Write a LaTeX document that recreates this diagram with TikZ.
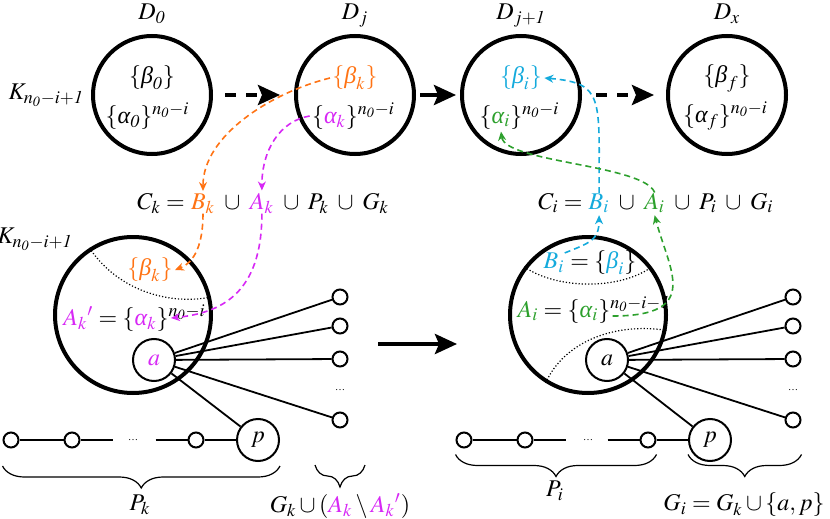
\documentclass[tikz,border=0pt]{standalone}
\usepackage{mathptmx}
\usepackage{fontspec}
\setmainfont{Liberation Serif}
\usepackage{xcolor}
\usetikzlibrary{arrows.meta,positioning,calc,decorations.pathreplacing}

\definecolor{orangek}{RGB}{255,115,20}
\definecolor{magk}{RGB}{215,40,245}
\definecolor{cyani}{RGB}{20,170,220}
\definecolor{greeni}{RGB}{45,160,45}
\newcommand{\nz}{n_{\mathit{0}}}
\newcommand{\gal}{\textit{α}}
\newcommand{\gbe}{\textit{β}}
\newcommand{\ucup}{{}\;\cup\;{}}

\begin{document}
\begin{tikzpicture}[x=0.5pt, y=0.5pt, font=\fontsize{12}{14}\selectfont,
    dset/.style={circle, draw, line width=2pt, minimum size=59pt, inner sep=0pt},
    kset/.style={circle, draw, line width=2pt, minimum size=78pt, inner sep=0pt},
    vtx/.style={circle, draw, fill=white, line width=1pt, minimum size=21pt, inner sep=0pt},
    leaf/.style={circle, draw, fill=white, line width=1pt, minimum size=7.5pt, inner sep=0pt},
    link/.style={line width=0.9pt},
    flow/.style={line width=2pt, -{Stealth[length=11pt, width=10pt, inset=2pt]}},
    skip/.style={flow, dash pattern=on 5.5pt off 5pt},
    track/.style={line width=0.8pt, dash pattern=on 3pt off 2pt, -{Stealth[length=4.5pt, width=4pt]}},
    part/.style={densely dotted, line width=0.6pt},
    brc/.style={decorate, decoration={brace, mirror, amplitude=11pt}, line width=0.6pt},
    txt/.style={inner sep=1pt},
    eq/.style={inner sep=0pt, anchor=base west}]
  \useasboundingbox (0,0) rectangle (830,-519);

  % top row of states
  \node[dset] (d0) at (152,-95) {};
  \node[dset] (dj) at (355,-95) {};
  \node[dset] (dj1) at (521,-95) {};
  \node[dset] (dx) at (727,-95) {};
  \node[anchor=base] at (152,-20) {$D_{\mathit{0}}$};
  \node[anchor=base] at (355,-20) {$D_j$};
  \node[anchor=base] at (521,-20) {$D_{j+\mathit{1}}$};
  \node[anchor=base] at (727,-20) {$D_x$};
  \node[left=0pt of d0] (kd) {$K_{\nz-i+\mathit{1}}$};

  \node[txt] (b0d) at ($(d0)+(0,17)$) {$\{\gbe_{\mathit{0}}\}$};
  \node[txt] (a0d) at ($(d0)+(-23,-21)$) {$\{\gal_{\mathit{0}}\}\rlap{$^{\nz-i}$}$};
  \node[txt, text=orangek] (bkd) at ($(dj)+(0,17)$) {$\{\gbe_k\}$};
  \node[txt] (akd) at ($(dj)+(-20,-21)$) {$\{\textcolor{magk}{\gal_k}\}\rlap{$^{\nz-i}$}$};
  \node[txt, text=cyani] (bid) at ($(dj1)+(0,17)$) {$\{\gbe_i\}$};
  \node[txt] (aid) at ($(dj1)+(-20,-21)$) {$\{\textcolor{greeni}{\gal_i}\}\rlap{$^{\nz-i}$}$};
  \node[txt] (bfd) at ($(dx)+(0,17)$) {$\{\gbe_f\}$};
  \node[txt] (afd) at ($(dx)+(-20,-21)$) {$\{\gal_f\}\rlap{$^{\nz-i}$}$};

  \draw[skip, shorten <=6pt, shorten >=7pt] (d0) -- (dj);
  \draw[flow, shorten <=2pt, shorten >=2pt] (dj) -- (dj1);
  \draw[skip, shorten <=7pt, shorten >=6pt] (dj1) -- (dx);

  % the two unions
  \node[eq] (ck) at (137,-209) {$C_k = {}$};
  \node[eq, text=orangek] (bkc) at (ck.base east) {$B_k$};
  \node[eq] (cupk) at (bkc.base east) {$\ucup$};
  \node[eq, text=magk] (akc) at (cupk.base east) {$A_k$};
  \node[eq] (restk) at (akc.base east) {$\ucup P_k \ucup G_k$};

  \node[eq] (ci) at (538,-209) {$C_i = {}$};
  \node[eq, text=cyani] (bic) at (ci.base east) {$B_i$};
  \node[eq] (cupi) at (bic.base east) {$\ucup$};
  \node[eq, text=greeni] (aic) at (cupi.base east) {$A_i$};
  \node[eq] (resti) at (aic.base east) {$\ucup P_i \ucup G_i$};

  % left graph
  \node[kset] (cl) at (133,-315) {};
  \node (kc) at (35,-239) {$K_{\nz-i+\mathit{1}}$};
  \draw[part] (cl.123) .. controls +(30,-45) and +(-38,-8) .. (cl.13);
  \node[txt, text=orangek] (bkl) at (150,-270) {$\{\gbe_k\}$};
  \node[txt] (akl) at (116,-318) {$\textcolor{magk}{A_k{}'} = \{\textcolor{magk}{\gal_k}\}\rlap{$^{\nz-i}$}$};

  \node[vtx, text=magk] (al) at (154,-360) {$a$};
  \node[vtx] (pl) at (258,-440) {$p$};
  \foreach \y [count=\i] in {297,326,359,420}
    \node[leaf] (gl\i) at (340,-\y) {};
  \node[font=\tiny] (gldots) at (340,-390) {\dots};
  \foreach \i in {1,...,4}
    \draw[link] (al) -- (gl\i);
  \draw[link] (al) -- (pl);

  \node[leaf] (pl1) at (11,-440) {};
  \node[leaf] (pl2) at (72,-440) {};
  \node[leaf] (pl3) at (196,-440) {};
  \node[font=\tiny] (pldots) at (133,-440) {\dots};
  \coordinate[right=16pt of pl2] (plgap1);
  \coordinate[left=16pt of pl3] (plgap2);
  \draw[link] (pl1) -- (pl2);
  \draw[link] (pl2) -- (plgap1);
  \draw[link] (plgap2) -- (pl3);
  \draw[link] (pl3) -- (pl);

  \draw[brc] ($(pl1.west |- pl.south)+(0,-4)$) -- ($(pl.east |- pl.south)+(0,-4)$);
  \node (pklab) at (140,-505) {$P_k$};
  \draw[brc] ($(gl4)+(-25,-45)$) -- ($(gl4)+(25,-45)$);
  \node (gklab) at (340,-506) {$G_k \cup (\textcolor{magk}{A_k} \setminus \textcolor{magk}{A_k{}'})$};

  % step between the two graphs
  \coordinate (mida) at (378,-344);
  \coordinate (midb) at (457,-344);
  \draw[flow] (mida) -- (midb);

  % right graph
  \node[kset] (cr) at (588,-315) {};
  \draw[part] (cr.143) .. controls +(34,-23) and +(-32,-23) .. (cr.37);
  \draw[part] (cr.238) .. controls +(18,40) and +(-54,8) .. (cr.349);
  \node[inner sep=0pt, text=cyani] (bir) at (554,-263) {$B_i$};
  \node[eq] (birs) at (bir.base east) {${}=\{\textcolor{cyani}{\gbe_i}\}$};
  \node[txt] (air) at (564,-310) {$\textcolor{greeni}{A_i} = \{\textcolor{greeni}{\gal_i}\}\rlap{$^{\nz-i-\mathit{1}}$}$};

  \node[vtx] (ar) at (607,-360) {$a$};
  \node[vtx] (pr) at (710,-440) {$p$};
  \foreach \y [count=\i] in {297,326,359,420}
    \node[leaf] (gr\i) at (793,-\y) {};
  \node[font=\tiny] (grdots) at (793,-390) {\dots};
  \foreach \i in {1,...,4}
    \draw[link] (ar) -- (gr\i);
  \draw[link] (ar) -- (pr);

  \node[leaf] (pr1) at (464,-440) {};
  \node[leaf] (pr2) at (525,-440) {};
  \node[leaf] (pr3) at (648,-440) {};
  \node[font=\tiny] (prdots) at (588,-440) {\dots};
  \coordinate[right=16pt of pr2] (prgap1);
  \coordinate[left=16pt of pr3] (prgap2);
  \draw[link] (pr1) -- (pr2);
  \draw[link] (pr2) -- (prgap1);
  \draw[link] (prgap2) -- (pr3);
  \draw[link] (pr3) -- (pr);

  \draw[brc] ($(pr1.west |- pr1.south)+(0,-6)$) -- ($(pr3.east |- pr3.south)+(0,-6)$);
  \node (pilab) at (555,-491) {$P_i$};
  \draw[brc] ($(pr.west |- pr1.south)+(0,-6)$) -- ($(gr4.east |- pr1.south)+(0,-6)$);
  \node (gilab) at (744,-505) {$G_i = G_k \cup \{a, p\}$};

  % where the sets come from
  \draw[track, orangek] (bkd.west) .. controls +(-60,-15) and +(0,55) .. ([yshift=1pt]bkc.north);
  \draw[track, orangek] (bkc.south) .. controls +(0,-30) and +(20,8) .. (bkl.east);
  \draw[track, magk] (akd.west) .. controls +(-30,-5) and +(0,40) .. ([yshift=1pt]akc.north);
  \draw[track, magk] (akc.south) .. controls +(0,-80) and +(50,5) .. (akl.east);
  \draw[track, cyani] (bir.north east) .. controls +(25,10) and +(0,-25) .. ([yshift=-1pt]bic.south);
  \draw[track, cyani] (bic.north) .. controls +(0,95) and +(60,-5) .. (bid.east);
  \draw[track, greeni] ([yshift=-3pt]air.east) .. controls +(90,0) and +(14,-54) .. ([yshift=-1pt]aic.south);
  \draw[track, greeni] (aic.north) .. controls +(-11,28) and +(4,-31) .. (aid.south);
\end{tikzpicture}
\end{document}
